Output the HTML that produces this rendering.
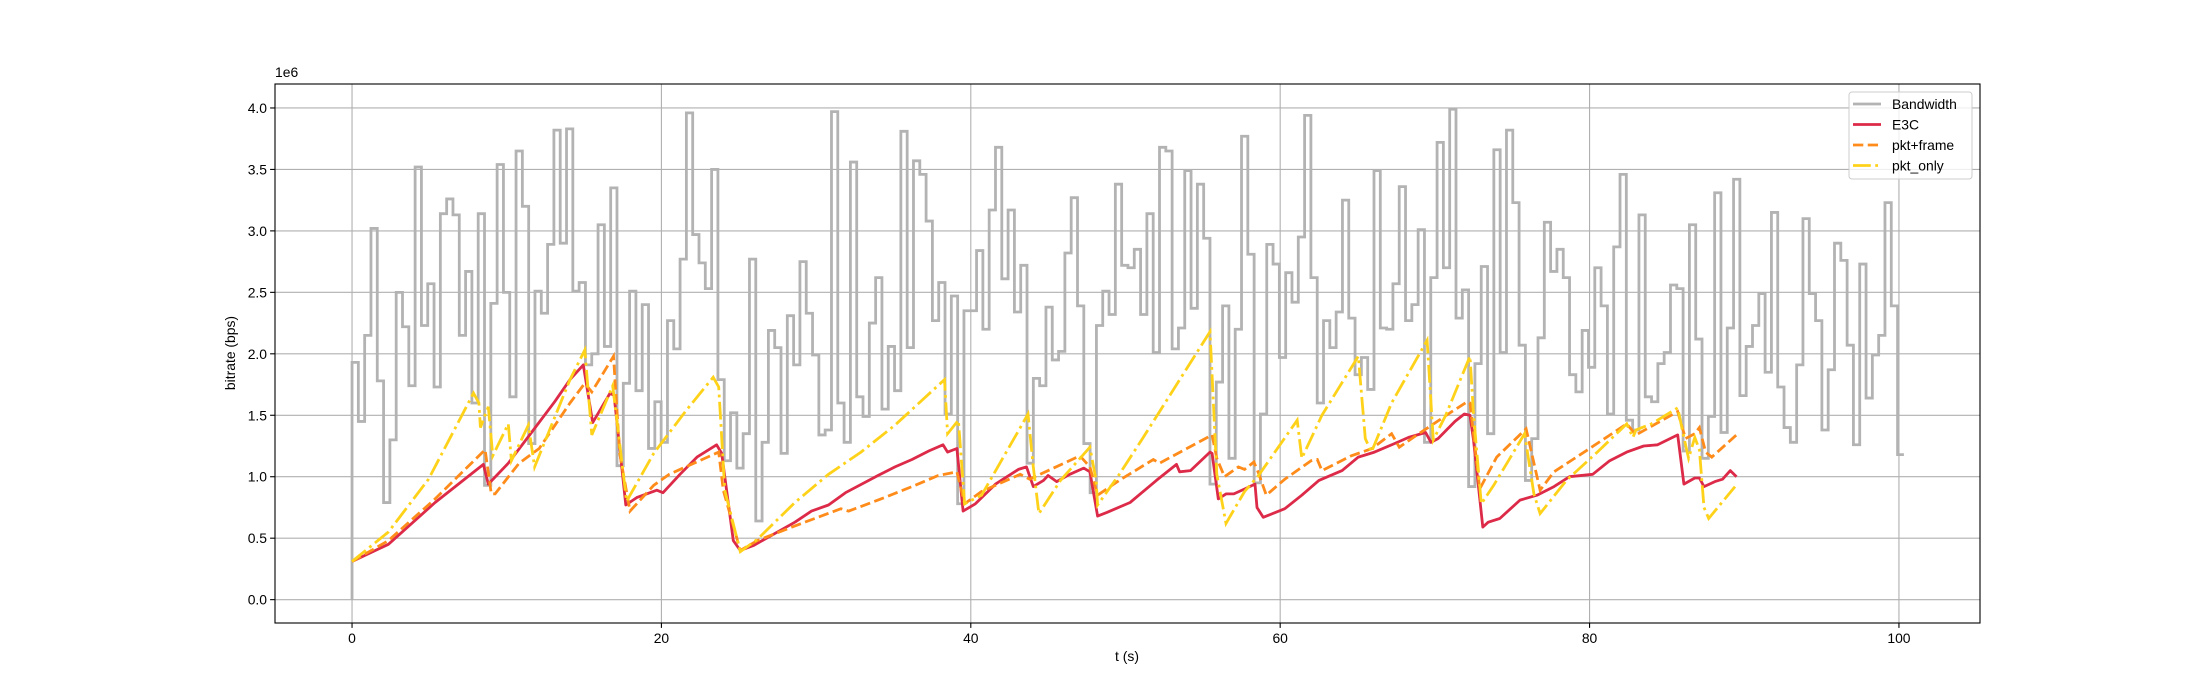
<!DOCTYPE html>
<html><head><meta charset="utf-8"><title>Bitrate chart</title>
<style>
html,body{margin:0;padding:0;background:#fff;}
svg{display:block;font-family:"Liberation Sans","DejaVu Sans",sans-serif;}
</style></head>
<body>
<svg id="chart" width="2200" height="700" viewBox="0 0 2200 700" xmlns="http://www.w3.org/2000/svg">
<rect x="0" y="0" width="2200" height="700" fill="#fff"/>
<defs><clipPath id="clip"><rect x="275" y="84" width="1705" height="539"/></clipPath></defs>
<g id="grid"></g>
<g id="series" clip-path="url(#clip)"></g>
<rect x="275" y="84" width="1705" height="539" fill="none" stroke="#000" stroke-width="1.1"/>
<g id="ticks"></g>
<text x="275" y="77" font-size="13.9">1e6</text>
<text x="1127" y="661" font-size="13.9" text-anchor="middle">t (s)</text>
<text x="0" y="0" font-size="13.9" text-anchor="middle" transform="translate(235,353) rotate(-90)">bitrate (bps)</text>
<g id="legend">
<rect x="1849" y="92" width="123" height="87" rx="3" fill="#fff" fill-opacity="0.8" stroke="#ccc" stroke-width="1"/>
<g><line x1="1853" y1="104" x2="1881" y2="104" stroke="#b3b3b3" stroke-width="2.8"/><text x="1892" y="109" font-size="13.9">Bandwidth</text></g>
<g><line x1="1853" y1="124.5" x2="1881" y2="124.5" stroke="#dc2a48" stroke-width="2.8"/><text x="1892" y="129.5" font-size="13.9">E3C</text></g>
<g><line x1="1853" y1="145" x2="1881" y2="145" stroke="#ff8c1a" stroke-width="2.8" stroke-dasharray="10.3,4.45"/><text x="1892" y="150" font-size="13.9">pkt+frame</text></g>
<g><line x1="1853" y1="165.5" x2="1881" y2="165.5" stroke="#ffd21a" stroke-width="2.8" stroke-dasharray="17.8,4.45,2.78,4.45"/><text x="1892" y="170.5" font-size="13.9">pkt_only</text></g>
</g>
</svg>
<script>
const xTicks = [0, 20, 40, 60, 80, 100];
const yTicks = [0, 0.5, 1.0, 1.5, 2.0, 2.5, 3.0, 3.5, 4.0];
const bwEnd = 100.32;
const bwV = [1.93,1.45,2.15,3.02,1.78,0.79,1.30,2.50,2.22,1.74,3.52,2.23,2.57,1.73,3.14,3.26,3.13,2.15,2.67,1.60,3.14,0.93,2.41,3.54,2.50,1.65,3.65,3.20,
1.27,2.51,2.33,2.89,3.82,2.90,
3.83,2.51,2.58,1.91,2.00,3.05,2.06,3.35,1.09,1.76,2.51,1.70,2.40,1.23,1.61,1.28,2.27,2.04,2.77,3.96,2.97,2.74,2.53,3.50,1.79,1.13,1.52,1.07,1.35,2.77,0.64,1.28,2.19,2.05,1.19,2.31,
1.91,2.75,2.33,1.99,1.34,1.38,3.97,1.60,1.28,3.56,1.65,1.49,2.25,2.62,1.55,2.06,1.70,3.81,2.05,3.57,3.46,3.08,2.27,2.58,1.51,2.47,0.78,2.35,2.35,2.84,2.20,3.17,3.68,2.61,3.17,
2.34,2.72,1.11,1.80,1.74,2.38,1.95,2.02,2.82,3.27,2.39,1.27,0.87,2.23,2.51,2.32,3.38,2.72,2.70,2.85,2.32,3.14,2.01,3.68,3.65,2.04,2.21,3.49,2.37,3.38,2.94,0.94,1.77,2.39,1.15,2.20,
3.77,2.81,0.95,1.51,2.89,2.73,1.97,2.66,2.42,2.95,3.94,2.62,1.60,2.27,2.05,2.34,3.25,2.29,1.83,1.97,1.71,3.49,2.21,2.20,2.57,3.36,2.27,2.40,3.01,1.28,2.62,3.72,2.70,3.99,2.29,
2.52,0.92,1.92,2.71,1.35,3.66,2.01,3.82,3.23,2.07,0.97,1.31,2.13,3.07,2.67,2.85,2.62,1.83,1.69,2.19,1.89,2.70,2.39,1.51,2.87,3.46,1.46,1.38,3.13,1.65,1.61,1.92,2.01,2.56,2.53,1.21,3.05,
2.12,1.15,1.49,3.31,1.36,2.21,3.42,1.66,2.06,2.23,2.49,1.85,3.15,1.73,1.40,1.28,1.91,3.10,2.49,2.27,1.38,1.87,2.90,2.76,2.07,1.26,2.73,1.64,1.99,2.15,3.23,2.39,1.18];
const e3cT = [0,2.35,5.37,8.49,8.81,10.1,11.6,13.1,14.09,14.95,15.56,16.68,16.94,17.7,18.4,19.7,20.1,21.2,22.3,23.57,23.9,24.65,25.1,25.94,28.63,29.7,30.8,31.9,34.0,35.1,36.2,37.3,38.2,38.5,39.1,39.5,40.3,41.6,43.08,43.6,44.04,44.7,45.0,45.55,46.4,47.3,47.7,48.2,48.8,50.3,52.0,53.3,53.5,54.2,55.46,55.6,56.0,56.5,57.0,57.7,58.37,58.5,58.9,60.3,61.4,62.5,64.0,65.05,66.1,67.4,68.3,69.4,69.75,70.2,71.3,71.9,72.27,72.5,73.1,73.45,74.2,75.5,76.6,77.7,78.7,80.2,81.3,82.4,83.5,84.4,85.7,86.1,86.8,87.1,87.4,88.1,88.6,89.1,89.5];
const e3cV = [0.31,0.45,0.79,1.10,0.94,1.11,1.36,1.61,1.79,1.91,1.44,1.68,1.66,0.77,0.83,0.89,0.87,1.02,1.16,1.26,1.19,0.48,0.40,0.44,0.63,0.72,0.77,0.87,1.01,1.08,1.14,1.21,1.26,1.20,1.23,0.72,0.78,0.94,1.06,1.08,0.92,0.97,1.01,0.96,1.02,1.07,1.04,0.68,0.71,0.79,0.97,1.10,1.04,1.05,1.20,1.19,0.82,0.86,0.86,0.90,0.94,0.75,0.67,0.74,0.85,0.97,1.05,1.16,1.20,1.27,1.32,1.36,1.28,1.31,1.45,1.51,1.50,1.30,0.59,0.63,0.66,0.81,0.85,0.92,1.00,1.02,1.13,1.20,1.25,1.26,1.34,0.94,0.99,0.99,0.92,0.96,0.98,1.05,1.00];
const pfT = [0,2.35,5.37,8.6,9.0,9.25,10.8,12.1,14.09,15.05,15.5,16.9,17.3,17.97,19.5,20.5,23.7,24.0,25.1,26.2,28.63,31.6,32.1,34.0,36.2,37.9,39.1,39.6,40.7,43.2,43.8,47.05,47.7,48.2,49.6,51.8,52.2,55.6,55.9,56.4,57.3,57.7,58.3,58.6,59.1,60.3,62.0,62.4,62.7,64.6,65.95,67.2,67.7,68.96,69.8,71.1,72.1,72.27,72.9,74.0,75.9,76.8,77.7,80.0,82.4,83.0,85.7,86.2,86.8,87.1,87.5,87.9,89.5];
const pfV = [0.31,0.48,0.82,1.22,0.86,0.86,1.11,1.23,1.60,1.76,1.69,1.98,1.19,0.72,0.93,1.02,1.20,0.89,0.40,0.48,0.60,0.74,0.72,0.81,0.92,1.01,1.04,0.78,0.88,1.02,0.98,1.17,1.08,0.85,0.97,1.14,1.11,1.34,1.15,1.00,1.08,1.06,1.12,1.03,0.85,0.98,1.13,1.14,1.05,1.17,1.23,1.35,1.24,1.35,1.42,1.53,1.61,1.60,0.90,1.16,1.39,0.89,1.04,1.23,1.43,1.34,1.53,1.31,1.35,1.40,1.20,1.16,1.34];
const poT = [0,2.35,4.94,7.85,8.2,8.3,8.81,9.1,10.1,10.3,11.4,11.8,14.09,15.05,15.5,16.85,17.75,19.5,21.6,23.35,23.7,24.1,25.1,26.2,28.63,30.8,32.9,35.1,38.3,38.5,39.2,39.6,40.7,43.2,43.7,44.04,44.4,45.8,47.7,48.1,48.2,49.6,51.1,55.46,55.9,56.5,57.7,58.6,61.1,61.4,62.7,65.05,65.5,65.9,67.2,69.5,69.9,70.7,72.27,72.5,73.0,73.8,75.8,76.4,76.8,78.5,80.5,82.4,82.8,83.0,84.0,85.7,86.1,86.4,86.8,87.1,87.4,87.7,89.4];
const poV = [0.31,0.55,0.98,1.68,1.60,1.40,1.57,1.17,1.43,1.13,1.42,1.08,1.79,2.03,1.34,1.74,0.80,1.19,1.54,1.81,1.73,0.89,0.39,0.49,0.79,1.02,1.20,1.42,1.79,1.35,1.46,0.78,0.85,1.40,1.51,1.08,0.70,0.97,1.24,0.97,0.77,1.02,1.31,2.18,1.02,0.62,0.88,1.01,1.46,1.15,1.50,1.98,1.31,1.20,1.60,2.11,1.30,1.50,1.98,1.51,0.78,0.93,1.35,0.86,0.70,0.97,1.20,1.43,1.32,1.38,1.43,1.56,1.32,1.15,1.32,1.22,0.75,0.66,0.92];

const NS = 'http://www.w3.org/2000/svg';
const L = 275, R = 1980, T = 84, B = 623;
const xMin = -4.98, xMax = 105.24, yMin = -0.19, yMax = 4.195;
function sx(t){ return L + (t - xMin) / (xMax - xMin) * (R - L); }
function sy(v){ return B - (v - yMin) / (yMax - yMin) * (B - T); }
function mk(tag, attrs, parent){
  const e = document.createElementNS(NS, tag);
  for (const k in attrs) e.setAttribute(k, attrs[k]);
  parent.appendChild(e);
  return e;
}
const grid = document.getElementById('grid');
const ticks = document.getElementById('ticks');
const series = document.getElementById('series');

xTicks.forEach(t => {
  const x = sx(t);
  const g = mk('line', {x1:x, y1:T, x2:x, y2:B, stroke:'#b0b0b0', 'stroke-width':1.1}, grid);
  
  
  const tk = mk('line', {x1:x, y1:B, x2:x, y2:B+4.9, stroke:'#000', 'stroke-width':1.1}, ticks);
  
  
  const lb = mk('text', {x:x, y:B+20, 'font-size':13.9, 'text-anchor':'middle'}, ticks);
  
  
  lb.textContent = String(t);
});
yTicks.forEach(v => {
  const y = sy(v);
  const g = mk('line', {x1:L, y1:y, x2:R, y2:y, stroke:'#b0b0b0', 'stroke-width':1.1}, grid);
  
  
  const tk = mk('line', {x1:L-4.9, y1:y, x2:L, y2:y, stroke:'#000', 'stroke-width':1.1}, ticks);
  
  
  const lb = mk('text', {x:L-8, y:y+5, 'font-size':13.9, 'text-anchor':'end'}, ticks);
  
  
  lb.textContent = v.toFixed(1);
});

// bandwidth step line
const dt = bwEnd / bwV.length;
let d = 'M' + sx(0) + ',' + sy(0);
bwV.forEach((v, i) => {
  d += ' L' + sx(i*dt) + ',' + sy(v) + ' L' + sx((i+1)*dt) + ',' + sy(v);
});
const bw = mk('path', {d:d, fill:'none', stroke:'#b3b3b3', 'stroke-width':2.8, 'stroke-linejoin':'miter'}, series);



function linePath(ts, vs){
  return ts.map((t, i) => (i ? 'L' : 'M') + sx(t).toFixed(1) + ',' + sy(vs[i]).toFixed(1)).join(' ');
}
const e3c = mk('path', {d:linePath(e3cT, e3cV), fill:'none', stroke:'#dc2a48', 'stroke-width':2.8, 'stroke-linejoin':'round'}, series);


const pf = mk('path', {d:linePath(pfT, pfV), fill:'none', stroke:'#ff8c1a', 'stroke-width':2.8, 'stroke-dasharray':'10.3,4.45'}, series);


const po = mk('path', {d:linePath(poT, poV), fill:'none', stroke:'#ffd21a', 'stroke-width':2.8, 'stroke-dasharray':'17.8,4.45,2.78,4.45'}, series);


</script>
</body></html>
